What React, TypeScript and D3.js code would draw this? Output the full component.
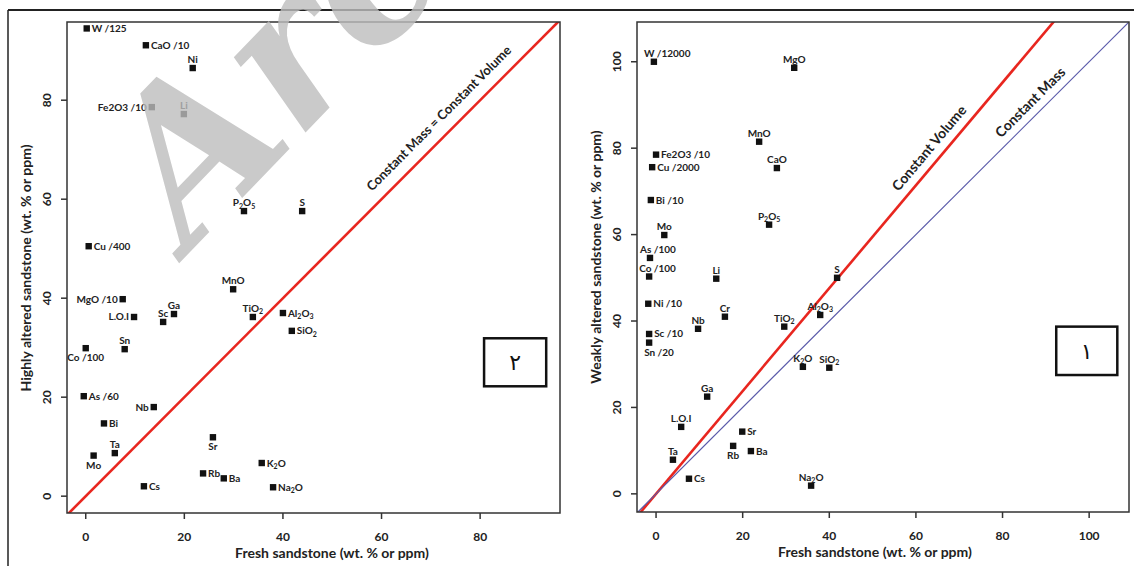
import React from 'react';
import * as d3 from 'd3';

const W = 1134;
const H = 566;

// panel ٢ (left): highly altered vs fresh sandstone
const leftNames = ['W /125', 'CaO /10', 'Ni', 'Fe2O3 /10', 'Li', 'P2O5', 'S', 'Cu /400', 'MnO', 'MgO /10', 'Ga', 'Sc', 'L.O.I', 'TiO2', 'Al2O3', 'SiO2', 'Co /100', 'Sn', 'As /60', 'Nb', 'Bi', 'Sr', 'Ta', 'Mo', 'K2O', 'Rb', 'Ba', 'Cs', 'Na2O'];
const leftFresh = [0.2, 12.2, 21.7, 13.4, 19.9, 32.1, 43.9, 0.6, 29.9, 7.5, 17.9, 15.7, 9.8, 33.9, 40.0, 41.8, 0, 7.9, -0.4, 13.8, 3.7, 25.8, 5.9, 1.6, 35.7, 23.8, 28.0, 11.8, 38.0];
const leftAltered = [94.5, 91.1, 86.5, 78.6, 77.2, 57.6, 57.6, 50.5, 41.8, 39.8, 36.8, 35.2, 36.2, 36.2, 37.0, 33.4, 29.9, 29.7, 20.2, 18.0, 14.7, 11.9, 8.7, 8.2, 6.7, 4.6, 3.6, 2.0, 1.8];
const leftLabelPos = ['right', 'right', 'above', 'left', 'above', 'above', 'above', 'right', 'above', 'left', 'above', 'above', 'left', 'above', 'right', 'right', 'below', 'above', 'right', 'left', 'right', 'below', 'above', 'below', 'right', 'right', 'right', 'right', 'right'];
const leftTicks = [0, 20, 40, 60, 80];

// panel ١ (right): weakly altered vs fresh sandstone
const rightNames = ['W /12000', 'MgO', 'MnO', 'Fe2O3 /10', 'CaO', 'Cu /2000', 'Bi /10', 'P2O5', 'Mo', 'As /100', 'Co /100', 'Li', 'S', 'Ni /10', 'Al2O3', 'Cr', 'TiO2', 'Nb', 'Sc /10', 'Sn /20', 'K2O', 'SiO2', 'Ga', 'L.O.I', 'Sr', 'Rb', 'Ba', 'Ta', 'Cs', 'Na2O'];
const rightFresh = [-0.5, 31.9, 23.8, 0, 27.9, -0.9, -1.2, 26.1, 1.9, -1.4, -1.6, 13.9, 41.8, -1.8, 37.9, 15.9, 29.6, 9.7, -1.6, -1.6, 33.9, 40.0, 11.8, 5.8, 19.9, 17.8, 21.9, 3.9, 7.6, 35.8];
const rightAltered = [100, 98.6, 81.5, 78.5, 75.4, 75.6, 68.0, 62.3, 59.9, 54.6, 50.3, 49.8, 50.0, 44.0, 41.4, 41.0, 38.7, 38.2, 37.0, 35.0, 29.4, 29.2, 22.5, 15.5, 14.4, 11.1, 9.9, 7.9, 3.5, 1.9];
const rightLabelPos = ['aboveright', 'above', 'above', 'right', 'above', 'right', 'right', 'above', 'above', 'aboveright', 'aboveright', 'above', 'above', 'right', 'above', 'above', 'above', 'above', 'right', 'belowright', 'above', 'above', 'above', 'above', 'right', 'below', 'right', 'above', 'right', 'above'];
const rightTicks = [0, 20, 40, 60, 80, 100];

const constantVolumeSlope = 1.19;

const FONT = 'Lato, "Open Sans", sans-serif';

// digits in oxide formulas as subscripts (divisor labels stay plain)
function labelText(name: string) {
  if (name.includes('/')) return name;
  const parts = name.split(/(\d+)/).filter((p) => p !== '');
  let sub = false;
  return parts.map((p, i) => {
    const isNum = /^\d+$/.test(p);
    const dy = isNum && !sub ? 2.5 : !isNum && sub ? -2.5 : 0;
    sub = isNum;
    return (
      <tspan key={i} dy={dy} fontSize={isNum ? 7 : undefined}>
        {p}
      </tspan>
    );
  });
}

type LineDef = { slope: number; color: string; width: number; label: string; atX: number; off: number; size: number };

type PanelProps = {
  id: string;
  left: number;
  right: number;
  top: number;
  bottom: number;
  xDomain: [number, number];
  yDomain: [number, number];
  ticks: number[];
  names: string[];
  fresh: number[];
  altered: number[];
  pos: string[];
  yTitle: string;
  xTitleX: number;
  yTitleY: number;
  lines: LineDef[];
  tag: string;
  tagBox: [number, number, number, number];
};

function Panel(p: PanelProps) {
  const x = d3.scaleLinear().domain(p.xDomain).range([p.left, p.right]);
  const y = d3.scaleLinear().domain(p.yDomain).range([p.bottom, p.top]);
  const pts = p.names.map((n, i) => ({ name: n, fx: p.fresh[i], ay: p.altered[i], pos: p.pos[i] }));

  return (
    <g>
      <defs>
        <clipPath id={`clip-${p.id}`}>
          <rect x={p.left} y={p.top} width={p.right - p.left} height={p.bottom - p.top} />
        </clipPath>
      </defs>

      {/* reference lines */}
      <g clipPath={`url(#clip-${p.id})`}>
        {p.lines.map((l, i) => {
          const xs = [p.xDomain[0] - 10, p.xDomain[1] + 10];
          const gen = d3
            .line<number>()
            .x((d) => x(d))
            .y((d) => y(d * l.slope));
          return <path key={i} d={gen(xs) || ''} stroke={l.color} strokeWidth={l.width} fill="none" />;
        })}
      </g>
      {p.lines.map((l, i) => {
        const ax = x(l.atX);
        const ay = y(l.atX * l.slope);
        const ang = (Math.atan2(y(100 * l.slope) - y(0), x(100) - x(0)) * 180) / Math.PI;
        return (
          <text
            key={i}
            transform={`translate(${ax},${ay}) rotate(${ang})`}
            dy={-l.off}
            textAnchor="middle"
            fontFamily={FONT}
            fontWeight={700}
            fontSize={l.size}
            fill="#222"
          >
            {l.label}
          </text>
        );
      })}

      {/* plot box */}
      <rect
        x={p.left}
        y={p.top}
        width={p.right - p.left}
        height={p.bottom - p.top}
        fill="none"
        stroke="#333"
        strokeWidth={1.5}
      />

      {/* x axis */}
      {p.ticks.map((t) => (
        <g key={`x${t}`}>
          <line x1={x(t)} x2={x(t)} y1={p.bottom} y2={p.bottom + 6} stroke="#333" strokeWidth={1.5} />
          <text x={x(t)} y={p.bottom + 28} textAnchor="middle" fontFamily={FONT} fontWeight={700} fontSize={12} fill="#222">
            {t}
          </text>
        </g>
      ))}
      <text x={p.xTitleX} y={p.bottom + 45} textAnchor="middle" fontFamily={FONT} fontWeight={700} fontSize={14} fill="#222">
        Fresh sandstone (wt. % or ppm)
      </text>

      {/* y axis */}
      {p.ticks.map((t) => (
        <g key={`y${t}`}>
          <line x1={p.left - 6} x2={p.left} y1={y(t)} y2={y(t)} stroke="#333" strokeWidth={1.5} />
          <text
            transform={`translate(${p.left - 16},${y(t)}) rotate(-90)`}
            textAnchor="middle"
            fontFamily={FONT}
            fontWeight={700}
            fontSize={12}
            fill="#222"
          >
            {t}
          </text>
        </g>
      ))}
      <text
        transform={`translate(${p.left - 36},${p.yTitleY}) rotate(-90)`}
        textAnchor="middle"
        fontFamily={FONT}
        fontWeight={700}
        fontSize={14}
        fill="#222"
      >
        {p.yTitle}
      </text>

      {/* points */}
      {pts.map((d, i) => {
        const cx = x(d.fx);
        const cy = y(d.ay);
        let tx = cx;
        let ty = cy;
        let anchor = 'middle';
        if (d.pos === 'above') ty = cy - 5;
        else if (d.pos === 'below') ty = cy + 13;
        else if (d.pos === 'right') {
          tx = cx + 5;
          ty = cy + 3.5;
          anchor = 'start';
        } else if (d.pos === 'left') {
          tx = cx - 5;
          ty = cy + 3.5;
          anchor = 'end';
        } else if (d.pos === 'aboveright') {
          tx = cx - 10;
          ty = cy - 5;
          anchor = 'start';
        } else if (d.pos === 'belowright') {
          tx = cx - 5;
          ty = cy + 13;
          anchor = 'start';
        }
        return (
          <g key={i}>
            <rect x={cx - 3.2} y={cy - 3.2} width={6.4} height={6.4} fill="#111" />
            <text x={tx} y={ty} textAnchor={anchor} fontFamily={FONT} fontWeight={700} fontSize={10} fill="#222">
              {labelText(d.name)}
            </text>
          </g>
        );
      })}

      {/* panel number */}
      <rect
        x={x(p.tagBox[0])}
        y={y(p.tagBox[1])}
        width={x(p.tagBox[2]) - x(p.tagBox[0])}
        height={y(p.tagBox[3]) - y(p.tagBox[1])}
        fill="#fff"
        stroke="#111"
        strokeWidth={2.5}
      />
      <text
        x={(x(p.tagBox[0]) + x(p.tagBox[2])) / 2}
        y={(y(p.tagBox[1]) + y(p.tagBox[3])) / 2 + 8}
        textAnchor="middle"
        fontFamily='"DejaVu Sans", sans-serif'
        fontSize={22}
        fill="#111"
      >
        {p.tag}
      </text>
    </g>
  );
}

export default function App() {
  return (
    <svg
      width={W}
      height={H}
      style={{ position: 'absolute', left: 0, top: 0, background: '#fff' }}
    >
      <rect x={0} y={0} width={W} height={H} fill="#fff" />
      <line x1={8} x2={W} y1={10} y2={10} stroke="#222" strokeWidth={2} />
      <line x1={8} x2={8} y1={10} y2={H} stroke="#222" strokeWidth={1.5} />

      <Panel
        id="left"
        left={67}
        right={560}
        top={22}
        bottom={513}
        xDomain={[-3.8, 96.2]}
        yDomain={[-3.4, 95.8]}
        ticks={leftTicks}
        names={leftNames}
        fresh={leftFresh}
        altered={leftAltered}
        pos={leftLabelPos}
        yTitle="Highly altered sandstone (wt. % or ppm)"
        xTitleX={332}
        yTitleY={268}
        lines={[{ slope: 1, color: '#e8261f', width: 2.6, label: 'Constant Mass = Constant Volume', atX: 74, off: 12, size: 13 }]}
        tag="٢"
        tagBox={[80.8, 31.9, 93.4, 22.2]}
      />
      <Panel
        id="right"
        left={637}
        right={1129}
        top={22}
        bottom={512}
        xDomain={[-4.4, 109.2]}
        yDomain={[-4.2, 109.2]}
        ticks={rightTicks}
        names={rightNames}
        fresh={rightFresh}
        altered={rightAltered}
        pos={rightLabelPos}
        yTitle="Weakly altered sandstone (wt. % or ppm)"
        xTitleX={875}
        yTitleY={257}
        lines={[
          { slope: constantVolumeSlope, color: '#e8261f', width: 2.6, label: 'Constant Volume', atX: 65.5, off: 9, size: 14 },
          { slope: 1, color: '#5b5baa', width: 1.2, label: 'Constant Mass', atX: 88.5, off: 8, size: 14 },
        ]}
        tag="١"
        tagBox={[92.4, 38.7, 106.5, 27.5]}
      />

      {/* watermark */}
      <text
        transform="translate(190,252) rotate(-46)"
        fontFamily='"DejaVu Serif", serif'
        fontStyle="italic"
        fontWeight={700}
        fontSize={200}
        fill="#bdbdbd"
        opacity={0.8}
      >
        Archive
      </text>
    </svg>
  );
}
